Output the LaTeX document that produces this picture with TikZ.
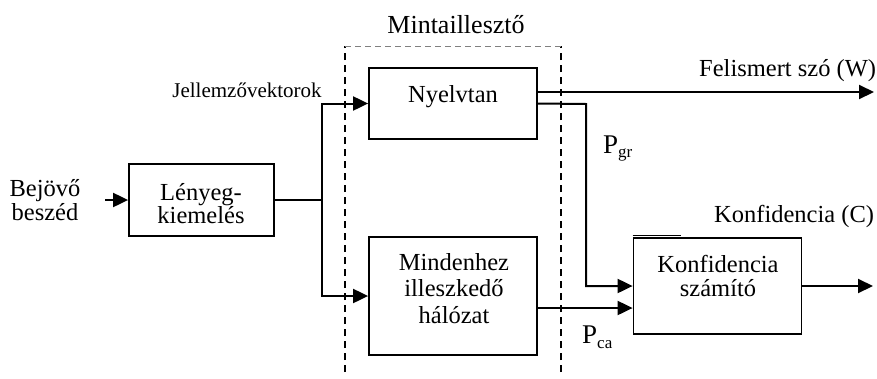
\documentclass[tikz,border=0pt]{standalone}
\usepackage{fontspec}
\setmainfont{Liberation Serif}
\usetikzlibrary{arrows.meta}
\begin{document}
\begin{tikzpicture}[x=1pt,y=-1pt,
  box/.style={draw, line width=1.8pt, inner sep=0pt},
  conn/.style={line width=2pt},
  arr/.style={conn, -{Triangle[length=15pt,width=14pt]}},
  txt/.style={font=\fontsize{24.5}{23}\selectfont, align=center, inner sep=0pt, anchor=base},
  small/.style={font=\fontsize{21}{21}\selectfont, inner sep=0pt, anchor=base},
  dline/.style={line width=1.5pt, dash pattern=on 7pt off 5pt}]
\useasboundingbox (0,0) rectangle (877,378);
% dashed group
\draw[dline] (345,372) -- (345,46);
\draw[dline] (561,372) -- (561,46);
\draw[line width=0.8pt, gray, dash pattern=on 6pt off 4pt] (345,46) -- (561,46);
\node[txt, font=\fontsize{26}{26}\selectfont] (mint) at (456,33) {Mintaillesztő};
% boxes
\node[box, minimum width=145pt, minimum height=72pt] (lk) at (201.5,200) {};
\node[txt] (lkt) at (201,223) {Lényeg-\\kiemelés};
\node[box, minimum width=168pt, minimum height=71pt] (ny) at (453,103.5) {};
\node[txt] (nyt) at (453,102) {Nyelvtan};
\node[box, minimum width=168pt, minimum height=118pt] (mh) at (453,296) {};
\node[txt, font=\fontsize{24.5}{26.5}\selectfont] (mht) at (454,323) {Mindenhez\\illeszkedő\\hálózat};
\node[box, minimum width=168pt, minimum height=96pt] (kf) at (717.5,286) {};
\node[txt, font=\fontsize{24.5}{24}\selectfont] (kft) at (718,296) {Konfidencia\\számító};
\draw[line width=1.5pt] ([yshift=1.5pt]kf.north west) -- ++(48,0);
% labels
\node[txt, font=\fontsize{24.5}{22}\selectfont] (bej) at (45,220) {Bejövő\\beszéd};
\node[small] (jel) at (247,97) {Jellemzővektorok};
\node[txt, anchor=base west] (fel) at (699,76) {Felismert szó (W)};
\node[txt, anchor=base west] (konf) at (714,222) {Konfidencia (C)};
\node[txt, anchor=base west, font=\fontsize{27}{27}\selectfont] (pgr) at (603,153) {P\raisebox{-4pt}{\fontsize{17}{17}\selectfont gr}};
\node[txt, anchor=base west, font=\fontsize{27}{27}\selectfont] (pca) at (582,343) {P\raisebox{-5pt}{\fontsize{17}{17}\selectfont ca}};
% connectors
\coordinate (in) at (105,200);
\coordinate (split) at (322,200);
\coordinate (wout) at (874,92);
\coordinate (bend) at (586,104);
\coordinate (cout) at (873,286);
\draw[arr] (in) -- (lk.west);
\draw[conn] (lk.east) -- (split);
\draw[arr] (split) |- (ny.west);
\draw[arr] (split) |- (mh.west);
\draw[arr] ([yshift=11.5pt]ny.east) -- (wout);
\draw[arr] (ny.east) -- (bend) |- (kf.west);
\draw[arr] ([yshift=-12pt]mh.east) -- ([yshift=-12pt]mh.east -| kf.west);
\draw[arr] (kf.east) -- (cout);
\end{tikzpicture}
\end{document}
